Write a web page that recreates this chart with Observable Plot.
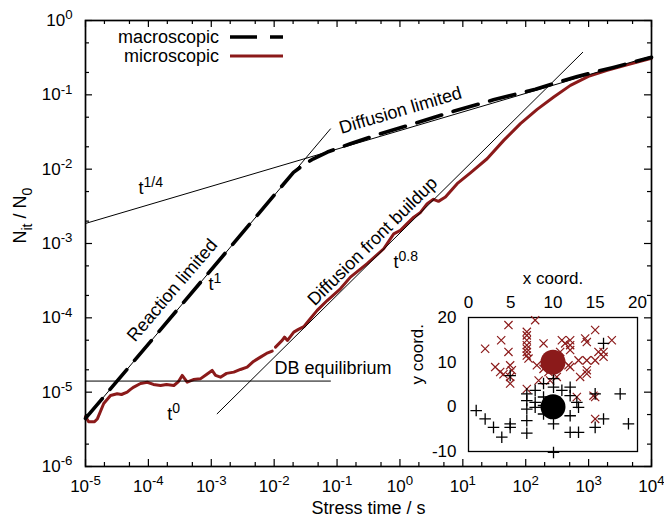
<!DOCTYPE html>
<html><head><meta charset="utf-8">
<script src="https://cdn.jsdelivr.net/npm/d3@7"></script>
<script src="https://cdn.jsdelivr.net/npm/@observablehq/plot@0.6"></script>
<style>
html,body{margin:0;padding:0;background:#fff;}
#wrap{position:relative;width:664px;height:523px;overflow:hidden;font-family:"Liberation Sans",Arial,Helvetica,sans-serif;}
#wrap svg{position:absolute;}
</style></head><body><div id="wrap"></div>
<script>
// ---------- data ----------
const macroT = [1e-5, 2.03e-2, 3.15e-2, 4.22e-2, 7.03e-2, 0.163, 0.49, 1.64, 7.1, 30.7, 143, 663, 2480, 1e4];
const macroN = [4.43e-6, 9.06e-3, 1.19e-2, 1.38e-2, 1.70e-2, 2.2e-2, 3.0e-2, 4.07e-2, 6.0e-2, 8.57e-2, 0.119, 0.177, 0.234, 0.320];

const microT1 = [1e-5, 1.12e-5, 1.39e-5, 1.55e-5, 1.95e-5, 2.5e-5, 3.19e-5, 3.73e-5, 4.6e-5, 5.2e-5, 5.86e-5, 7.5e-5, 9.6e-5, 1.2e-4, 1.56e-4, 1.94e-4, 2.54e-4, 3.01e-4, 3.45e-4, 4.14e-4, 5.2e-4, 6.7e-4, 8.4e-4, 1.03e-3, 1.17e-3, 1.4e-3, 1.75e-3, 2.28e-3, 2.91e-3, 3.72e-3, 4.69e-3, 6.05e-3, 7.55e-3, 9.3e-3];
const microN1 = [4.7e-6, 4.0e-6, 4.0e-6, 4.4e-6, 7.05e-6, 9.0e-6, 9.5e-6, 9.3e-6, 1.0e-5, 1.09e-5, 1.17e-5, 1.31e-5, 1.36e-5, 1.27e-5, 1.23e-5, 1.27e-5, 1.23e-5, 1.39e-5, 1.68e-5, 1.36e-5, 1.48e-5, 1.51e-5, 1.73e-5, 1.96e-5, 1.68e-5, 1.59e-5, 1.79e-5, 1.86e-5, 2.02e-5, 2.17e-5, 2.59e-5, 2.96e-5, 3.32e-5, 3.56e-5];
const microT2 = [1.05e-2, 1.34e-2, 1.46e-2, 1.63e-2, 2.05e-2, 2.43e-2, 2.96e-2, 3.78e-2, 4.83e-2, 6.97e-2, 0.113, 0.163, 0.301, 0.552, 0.796, 1.02, 1.3, 1.66, 2.12, 2.71, 3.41, 4.1, 5.29, 8.12, 13.2, 24.3, 44.7, 82.4, 152, 279, 514, 993, 1970, 4090, 1e4];
const microN2 = [4.04e-5, 4.97e-5, 5.5e-5, 4.97e-5, 6.43e-5, 6.99e-5, 7.6e-5, 9.8e-5, 1.26e-4, 1.71e-4, 2.46e-4, 3.53e-4, 5.35e-4, 8.5e-4, 1.35e-3, 1.5e-3, 1.85e-3, 2.26e-3, 2.62e-3, 3.44e-3, 3.93e-3, 3.69e-3, 4.21e-3, 6.38e-3, 8.91e-3, 1.38e-2, 2.44e-2, 4.1e-2, 6.38e-2, 9.34e-2, 0.134, 0.177, 0.214, 0.253, 0.310];

// power-law guide lines (end points)
const fitQuarterT = [1e-5, 1e4],      fitQuarterN = [1.86e-3, 0.331];
const fitOneT     = [1e-5, 0.0785],   fitOneN     = [4.43e-6, 0.0348];
const fitZeroT    = [1e-5, 0.0785],   fitZeroN    = [1.41e-5, 1.41e-5];
const fitBuildT   = [1.24e-3, 805],   fitBuildN   = [5.12e-6, 0.373];

// annotations
const regimeLabels = ["Diffusion limited", "Reaction limited", "Diffusion front buildup"];
const regimeT = [1.02, 2.39e-4, 0.366];
const regimeN = [0.0618, 2.34e-4, 1.07e-3];
const regimeAngle = [-16.5, -49.5, -44.7];
const slopeLabels = ["t^{1/4}", "t^{1}", "t^{0.8}", "t^{0}", "DB equilibrium"];
const slopeT = [6.97e-5, 9.04e-4, 0.789, 1.99e-4, 1.01e-2];
const slopeN = [5.52e-3, 2.82e-4, 5.57e-4, 5.0e-6, 2.08e-5];

// axis ticks
const xTickExp = [-5, -4, -3, -2, -1, 0, 1, 2, 3, 4];
const yTickExp = [-6, -5, -4, -3, -2, -1, 0];
const legendLabels = ["macroscopic", "microscopic"];

// inset
const redX = [1.97,3.87,4.73,3.16,3.75,4.14,4.93,4.93,4.93,5.13,4.73,7.89,6.9,6.9,6.9,6.9,6.9,6.9,6.9,7.1,8.09,8.88,6.9,8.3,11.05,11.44,12.03,12.03,12.03,10.85,11.83,12.03,13.21,13.02,13.81,14.0,14.99,15.38,15.98,15.98,16.96,14.0,14.0,14.0,14.99,14.79,14.99,14.99,12.82,9.47,10.45,8.88,9.66];
const redY = [13.0,14.9,18.3,8.9,7.8,7.3,6.7,5.2,9.3,8.2,12.3,19.4,16.8,16.0,14.9,13.8,13.0,12.3,11.5,10.8,9.3,14.2,4.0,5.9,14.9,14.2,14.9,13.8,12.7,12.3,9.3,8.9,6.7,10.4,15.3,14.5,17.2,12.3,11.2,12.3,14.9,10.4,8.2,7.4,10.4,2.5,2.2,-2.7,2.2,7.8,6.7,8.5,5.9];
const blackX = [0.91,1.97,2.96,3.94,4.93,4.93,4.93,6.9,6.9,6.9,6.9,6.9,7.89,7.89,8.88,8.88,8.88,10.06,10.06,10.06,10.06,11.05,12.03,12.03,12.03,12.03,13.02,13.02,12.82,14.99,14.99,15.98,15.98,17.95,18.93,7.89,8.88];
const blackY = [-0.84,-2.7,-4.6,-6.8,-4.6,-3.8,7.0,2.9,1.4,-0.5,-3.1,-5.9,3.7,-0.1,5.2,2.2,-1.6,6.3,4.4,-3.8,-10.2,3.7,4.4,2.5,-2.0,-5.7,-5.7,-0.1,1.0,2.9,-4.6,-2.7,14.2,2.9,-3.8,1.0,0.3];
const centerX = [10, 10], centerY = [10, 0];
const insetXTicks = [0, 5, 10, 15, 20];
const insetYTicks = [-10, 0, 10, 20];

// ---------- drawing ----------
const RED = "#8b1a1a";
const FONT = "'Liberation Sans', Arial, Helvetica, sans-serif";
const W = 664, H = 523, ML = 85, MR = 13, MT = 20, MB = 57;
const PW = W - ML - MR, PH = H - MT - MB;
const pts = (xs, ys) => xs.map((x, i) => ({x, y: ys[i]}));

const xMajor = xTickExp.map(e => 10 ** e);
const yMajor = yTickExp.map(e => 10 ** e);
const minorOf = exps => exps.slice(0, -1).flatMap(e => [2 * 10 ** e, 5 * 10 ** e]);
const xMinor = minorOf(xTickExp), yMinor = minorOf(yTickExp);
const expFmt = d => `10^{${Math.round(Math.log10(d))}}`;

const fits = [
  pts(fitQuarterT, fitQuarterN), pts(fitOneT, fitOneN),
  pts(fitZeroT, fitZeroN), pts(fitBuildT, fitBuildN)
].flatMap((a, k) => a.map(d => ({...d, k})));

const regimes = regimeLabels.map((s, i) => ({s, x: regimeT[i], y: regimeN[i], a: regimeAngle[i]}));
const slopes = slopeLabels.map((s, i) => ({s, x: slopeT[i], y: slopeN[i]}));

const main = Plot.plot({
  width: W, height: H, marginLeft: ML, marginRight: MR, marginTop: MT, marginBottom: MB,
  x: {type: "log", domain: [1e-5, 1e4]},
  y: {type: "log", domain: [1e-6, 1]},
  style: {fontSize: "17px", fontFamily: FONT, background: "transparent", overflow: "visible"},
  marks: [
    Plot.line(pts(microT1, microN1), {x: "x", y: "y", stroke: RED, strokeWidth: 3, strokeLinejoin: "round"}),
    Plot.line(pts(microT2, microN2), {x: "x", y: "y", stroke: RED, strokeWidth: 3, strokeLinejoin: "round"}),
    Plot.line(pts(macroT, macroN), {x: "x", y: "y", stroke: "black", strokeWidth: 3.6, strokeDasharray: "26,12"}),
    Plot.line(fits, {x: "x", y: "y", z: "k", stroke: "black", strokeWidth: 1}),
    // ticks inward on all four sides
    Plot.tickX(xMajor, {x: d => d, insetTop: PH - 7, strokeWidth: 1.2}),
    Plot.tickX(xMajor, {x: d => d, insetBottom: PH - 7, strokeWidth: 1.2}),
    Plot.tickX(xMinor, {x: d => d, insetTop: PH - 4, strokeWidth: 1.2}),
    Plot.tickX(xMinor, {x: d => d, insetBottom: PH - 4, strokeWidth: 1.2}),
    Plot.tickY(yMajor, {y: d => d, insetRight: PW - 7, strokeWidth: 1.2}),
    Plot.tickY(yMajor, {y: d => d, insetLeft: PW - 7, strokeWidth: 1.2}),
    Plot.tickY(yMinor, {y: d => d, insetRight: PW - 4, strokeWidth: 1.2}),
    Plot.tickY(yMinor, {y: d => d, insetLeft: PW - 4, strokeWidth: 1.2}),
    Plot.frame({stroke: "black", strokeWidth: 1.7}),
    Plot.axisX({ticks: xMajor, tickSize: 0, tickPadding: 13, tickFormat: expFmt, label: null}),
    Plot.axisY({ticks: yMajor, tickSize: 0, tickPadding: 13, tickFormat: expFmt, label: null}),
    Plot.text(["Stress time / s"], {text: d => d, frameAnchor: "bottom", dy: 47, fontSize: 18}),
    Plot.text(["N_{it} / N_{0}"], {text: d => d, frameAnchor: "left", dx: -65, rotate: -90, fontSize: 18}),
    Plot.text(regimes, {x: "x", y: "y", text: "s", rotate: "a", fontSize: 18}),
    Plot.text(slopes, {x: "x", y: "y", text: "s", textAnchor: "start", fontSize: 18})
  ]
});
main.style.left = "0px"; main.style.top = "0px";

const inset = Plot.plot({
  width: 257, height: 211, marginLeft: 68, marginTop: 57, marginRight: 20, marginBottom: 20,
  x: {domain: [0, 20]}, y: {domain: [-10, 20]},
  style: {fontSize: "17px", fontFamily: FONT, background: "transparent", overflow: "visible"},
  marks: [
    Plot.frame({stroke: "black", strokeWidth: 1.3}),
    Plot.axisX({anchor: "top", ticks: insetXTicks, tickSize: 0, tickPadding: 10, tickFormat: d => String(d), label: null}),
    Plot.axisY({anchor: "left", ticks: insetYTicks, tickSize: 0, tickPadding: 12, tickFormat: d => String(d), label: null}),
    Plot.text(["x coord."], {text: d => d, frameAnchor: "top", dy: -46, fontSize: 17}),
    Plot.text(["y coord."], {text: d => d, frameAnchor: "left", dx: -51, rotate: -90, fontSize: 17}),
    Plot.dot(pts(redX, redY), {x: "x", y: "y", symbol: "times", r: 3.8, stroke: RED, strokeWidth: 1.2}),
    Plot.dot(pts(blackX, blackY), {x: "x", y: "y", symbol: "plus", r: 3.8, stroke: "black", strokeWidth: 1.3}),
    Plot.dot(pts(centerX, centerY), {x: "x", y: "y", r: 12.5, fill: (d, i) => i === 0 ? RED : "black", stroke: null})
  ]
});
inset.style.left = "400px"; inset.style.top = "260px";

const wrap = document.getElementById("wrap");
wrap.appendChild(main);
wrap.appendChild(inset);

// legend overlay
const ns = "http://www.w3.org/2000/svg";
const leg = d3.select(wrap).append("svg").attr("width", 300).attr("height", 80)
  .style("left", "0px").style("top", "0px").style("font-family", FONT).style("font-size", "18px");
const legStyle = [{stroke: "black", w: 3.6, dash: "27,13"}, {stroke: RED, w: 3, dash: null}];
legendLabels.forEach((s, i) => {
  const yb = 43 + i * 19;
  leg.append("text").attr("x", 219).attr("y", yb).attr("text-anchor", "end").text(s);
  leg.append("line").attr("x1", 230).attr("x2", 283).attr("y1", yb - 6).attr("y2", yb - 6)
    .attr("stroke", legStyle[i].stroke).attr("stroke-width", legStyle[i].w)
    .attr("stroke-dasharray", legStyle[i].dash);
});

// super/subscript rendering of "^{..}" and "_{..}"
function scriptify(root) {
  root.querySelectorAll("text").forEach(el => {
    const s = el.textContent;
    if (!/[\^_]\{/.test(s) || el.querySelector("tspan")) return;
    const fs = parseFloat(getComputedStyle(el).fontSize) || 17;
    const parts = s.split(/([\^_]\{[^}]*\})/);
    el.textContent = "";
    let shift = 0;
    for (const p of parts) {
      if (!p) continue;
      const m = p.match(/^([\^_])\{([^}]*)\}$/);
      const ts = document.createElementNS(ns, "tspan");
      if (m) {
        const target = m[1] === "^" ? -0.38 * fs : 0.3 * fs;
        ts.setAttribute("dy", target - shift); shift = target;
        ts.setAttribute("font-size", 0.78 * fs);
        ts.textContent = m[2];
      } else {
        ts.setAttribute("dy", -shift); shift = 0;
        ts.textContent = p;
      }
      el.appendChild(ts);
    }
  });
}
scriptify(main);
scriptify(inset);
</script></body></html>
